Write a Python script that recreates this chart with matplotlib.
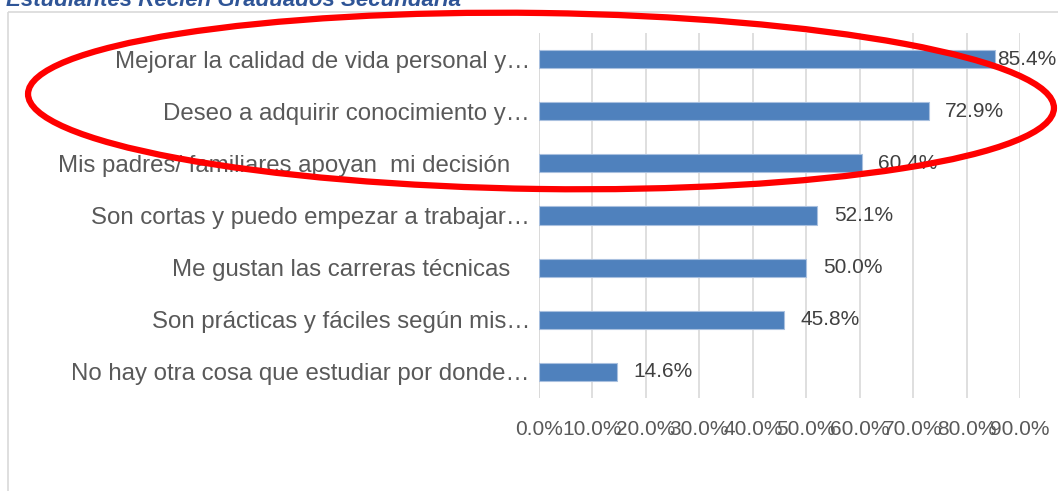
import matplotlib.pyplot as plt
from matplotlib.patches import Ellipse, Rectangle
from matplotlib.ticker import FuncFormatter

# Data
reasons = [
    "Mejorar la calidad de vida personal y…",
    "Deseo a adquirir conocimiento y…",
    "Mis padres/ familiares apoyan  mi decisión   ",
    "Son cortas y puedo empezar a trabajar…",
    "Me gustan las carreras técnicas   ",
    "Son prácticas y fáciles según mis…",
    "No hay otra cosa que estudiar por donde…",
]
shares = [0.854, 0.729, 0.604, 0.521, 0.500, 0.458, 0.146]
x_ticks = [0.0, 0.1, 0.2, 0.3, 0.4, 0.5, 0.6, 0.7, 0.8, 0.9]

W, H = 1058, 491
plt.rcParams['font.family'] = ['Liberation Sans', 'DejaVu Sans']

fig = plt.figure(figsize=(W / 100, H / 100), dpi=100)

# chart area frame and title (cut off at the top, as in the screenshot)
frame = fig.add_axes([0, 0, 1, 1], zorder=0)
frame.set_xlim(0, W)
frame.set_ylim(H, 0)
frame.axis('off')
frame.add_patch(Rectangle((8, 12), W, H, fill=False, edgecolor='#D9D9D9', lw=1.2))
frame.text(6, 6, "Estudiantes Recién Graduados Secundaria", fontsize=16,
           fontweight='bold', fontstyle='italic', color='#2F5597',
           va='baseline', ha='left', clip_on=False)

# bars
left, right = 539 / W, 1020 / W
top, bottom = 33 / H, 398 / H
ax = fig.add_axes([left, 1 - bottom, right - left, bottom - top], zorder=1)
ax.patch.set_alpha(0)
y = list(range(len(reasons)))
ax.barh(y, shares, height=0.35, color='#4F81BD', edgecolor='#A9C0DF', lw=0.8, zorder=2)
ax.set_xlim(0, 0.9)
ax.set_ylim(len(reasons) - 0.5, -0.5)
ax.set_yticks(y)
ax.set_yticklabels(reasons, fontsize=17.3, color='#595959')
ax.set_xticks(x_ticks)
ax.xaxis.set_major_formatter(FuncFormatter(lambda v, p: f"{v * 100:.1f}%"))
ax.tick_params(axis='x', labelsize=15, labelcolor='#595959', length=0, pad=16)
ax.tick_params(axis='y', length=0, pad=6.5)
ax.grid(axis='x', color='#D9D9D9', lw=1.2, zorder=0)
for s in ax.spines.values():
    s.set_visible(False)
ax.axvline(0, color='#D9D9D9', lw=1.2, zorder=1)

for i, v in enumerate(shares):
    off = 1.5 if i == 0 else 12
    ax.annotate(f"{v * 100:.1f}%", (v, i), xytext=(off, 0), textcoords='offset points',
                va='center', ha='left', fontsize=15, color='#404040', zorder=3)

# red annotation ellipse
over = fig.add_axes([0, 0, 1, 1], zorder=5)
over.set_xlim(0, W)
over.set_ylim(H, 0)
over.axis('off')
over.patch.set_alpha(0)
over.add_patch(Ellipse((541, 101), 1026, 176, angle=0.8, fill=False,
                       edgecolor='#FF0000', lw=4.5))

fig.savefig('out.png', dpi=100)
